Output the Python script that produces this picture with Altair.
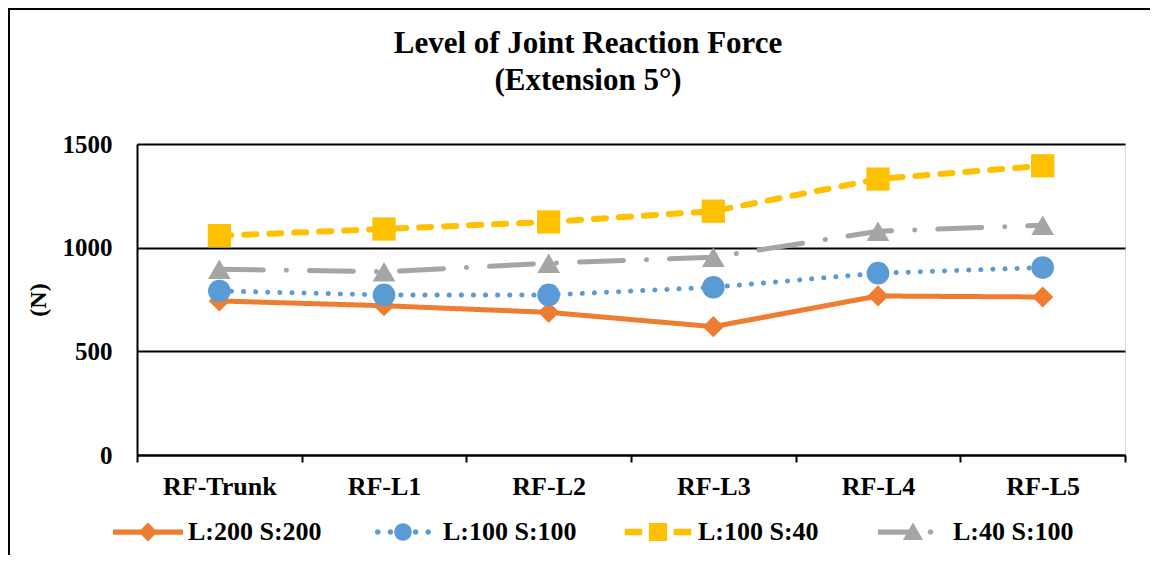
import altair as alt
import pandas as pd

# ---- data ----
categories = ["RF-Trunk", "RF-L1", "RF-L2", "RF-L3", "RF-L4", "RF-L5"]
series_names = ["L:200 S:200", "L:100 S:100", "L:100 S:40", "L:40 S:100"]
l200_s200 = [743, 720, 688, 619, 767, 762]
l100_s100 = [791, 772, 772, 809, 877, 904]
l100_s40 = [1058, 1090, 1124, 1176, 1331, 1395]
l40_s100 = [896, 884, 925, 954, 1079, 1108]
y_ticks = [0, 500, 1000, 1500]
title_lines = ["Level of Joint Reaction Force", "(Extension 5°)"]

# ---- styles ----
colors = ["#ED7D31", "#5B9BD5", "#FFC000", "#A5A5A5"]
dashes = [[1, 0], [0.1, 12], [12, 13], [44, 23, 0.1, 23]]
widths = [5, 5, 6, 5]
shapes = ["diamond", "circle", "square", "triangle-up"]
sizes = [450, 515, 540, 515]


def circ(cx, cy, r):
    return (f"M{cx - r},{cy} A{r},{r} 0 1,1 {cx + r},{cy} "
            f"A{r},{r} 0 1,1 {cx - r},{cy} Z")


legend_paths = [
    # solid line + diamond
    "M-1,-0.075 L1,-0.075 L1,0.075 L-1,0.075 Z "
    "M0,-0.27 L0.27,0 L0,0.27 L-0.27,0 Z",
    # dotted line + circle
    circ(-0.72, 0, 0.08) + " " + circ(-0.36, 0, 0.08) + " " + circ(0, 0, 0.25)
    + " " + circ(0.36, 0, 0.08) + " " + circ(0.72, 0, 0.08),
    # dashed line + square
    "M-0.95,-0.09 L-0.45,-0.09 L-0.45,0.09 L-0.95,0.09 Z "
    "M-0.26,-0.26 L0.26,-0.26 L0.26,0.26 L-0.26,0.26 Z "
    "M0.45,-0.09 L0.95,-0.09 L0.95,0.09 L0.45,0.09 Z",
    # long dash dot + triangle
    "M-1,-0.075 L0.1,-0.075 L0.1,0.075 L-1,0.075 Z "
    "M0,-0.27 L0.29,0.23 L-0.29,0.23 Z " + circ(0.5, 0, 0.08),
]

rows = []
for name, vals in zip(series_names, [l200_s200, l100_s100, l100_s40, l40_s100]):
    for c, v in zip(categories, vals):
        rows.append({"category": c, "series": name, "value": v})
df = pd.DataFrame(rows)

FONT = "Liberation Serif"

x_enc = alt.X(
    "category:N",
    sort=categories,
    bandPosition=0.5,
    scale=alt.Scale(type="band", domain=categories, paddingInner=0, paddingOuter=0),
    axis=alt.Axis(
        title=None,
        labelAngle=0,
        labelFont=FONT,
        labelFontSize=26,
        labelFontWeight="bold",
        labelColor="black",
        labelPadding=11,
        domainColor="black",
        domainWidth=2,
        tickColor="black",
        tickWidth=2,
        tickSize=7,
        tickBand="extent",
        grid=False,
    ),
)
y_enc = alt.Y(
    "value:Q",
    scale=alt.Scale(domain=[0, 1500], nice=False, zero=True),
    axis=alt.Axis(
        values=y_ticks,
        format="d",
        title="(N)",
        titleFont=FONT,
        titleFontSize=24,
        titleFontWeight="bold",
        titleColor="black",
        titlePadding=12,
        labelFont=FONT,
        labelFontSize=25,
        labelFontWeight="bold",
        labelColor="black",
        labelPadding=25,
        ticks=False,
        domainColor="black",
        domainWidth=2,
        grid=True,
        gridColor="black",
        gridWidth=2,
    ),
)

layers = []
for i, name in enumerate(series_names):
    base = alt.Chart(df).transform_filter(alt.datum.series == name)
    line = base.mark_line(
        color=colors[i],
        strokeWidth=widths[i],
        strokeDash=dashes[i],
        strokeCap="round",
        strokeJoin="round",
    ).encode(x=x_enc, y=y_enc)
    pts = base.mark_point(
        shape=shapes[i],
        size=sizes[i],
        filled=True,
        opacity=1,
        color=colors[i],
        strokeWidth=0,
    ).encode(x=x_enc, y=y_enc)
    layers += [line, pts]

leg_props = dict(
    orient="none",
    legendX=-24,
    legendY=353,
    direction="horizontal",
    columns=4,
    gridAlign="all",
    columnPadding=46,
    symbolSize=4900,
    symbolStrokeWidth=0,
    symbolOpacity=1,
    labelFont=FONT,
    labelFontSize=26,
    labelFontWeight="bold",
    labelColor="black",
    labelOffset=5,
    labelLimit=0,
    padding=0,
    title=None,
)

legend_layer = (
    alt.Chart(df)
    .transform_filter("false")
    .mark_point(filled=True, opacity=1, strokeWidth=0)
    .encode(
        x=x_enc,
        y=y_enc,
        color=alt.Color("series:N", scale=alt.Scale(domain=series_names, range=colors),
                        legend=alt.Legend(**leg_props)),
        shape=alt.Shape("series:N", scale=alt.Scale(domain=series_names, range=legend_paths),
                        legend=alt.Legend(**leg_props)),
    )
)

one = pd.DataFrame({"k": [0]})
frame_left = alt.Chart(one).mark_rule(color="black", strokeWidth=2).encode(
    x=alt.value(-128), y=alt.value(-136), y2=alt.value(420)
)
frame_top = alt.Chart(one).mark_rule(color="black", strokeWidth=2).encode(
    x=alt.value(-129), x2=alt.value(1013), y=alt.value(-135)
)
title_text = alt.Chart(one).mark_text(
    font=FONT,
    fontSize=31,
    fontWeight="bold",
    color="black",
    lineHeight=37,
    align="center",
    baseline="top",
).encode(x=alt.value(451), y=alt.value(-115), text=alt.value(title_lines))

chart = (
    alt.layer(*layers, legend_layer, frame_left, frame_top, title_text)
    .properties(
        width=988,
        height=311,
        padding={"left": 129, "top": 136, "right": 25, "bottom": 100},
        autosize=alt.AutoSizeParams(type="none"),
    )
    .configure_view(stroke="transparent")
    .configure(background="white")
)

chart.save("out.html", embed_options={"renderer": "svg", "actions": False})
